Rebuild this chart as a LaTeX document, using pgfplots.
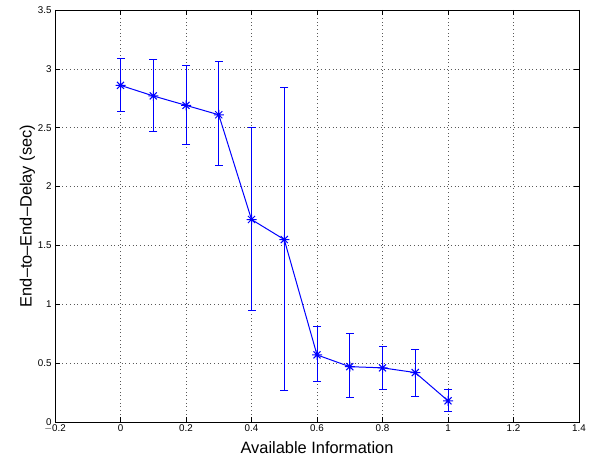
\documentclass[border=0pt]{standalone}
\usepackage{pgfplots}
\pgfplotsset{compat=1.18}
\usetikzlibrary{calc}
\usepackage{fontspec}
\setmainfont{Liberation Sans}
\pgfdeclareplotmark{mstar}{%
  \pgfpathmoveto{\pgfqpoint{-\pgfplotmarksize}{0pt}}%
  \pgfpathlineto{\pgfqpoint{\pgfplotmarksize}{0pt}}%
  \pgfpathmoveto{\pgfqpoint{0pt}{-\pgfplotmarksize}}%
  \pgfpathlineto{\pgfqpoint{0pt}{\pgfplotmarksize}}%
  \pgfpathmoveto{\pgfqpoint{-0.7071\pgfplotmarksize}{-0.7071\pgfplotmarksize}}%
  \pgfpathlineto{\pgfqpoint{0.7071\pgfplotmarksize}{0.7071\pgfplotmarksize}}%
  \pgfpathmoveto{\pgfqpoint{-0.7071\pgfplotmarksize}{0.7071\pgfplotmarksize}}%
  \pgfpathlineto{\pgfqpoint{0.7071\pgfplotmarksize}{-0.7071\pgfplotmarksize}}%
  \pgfusepathqstroke}
\pgfplotstableread{
x    y     lo    hi
0.0  2.86  2.64  3.09
0.1  2.77  2.47  3.08
0.2  2.69  2.36  3.03
0.3  2.61  2.18  3.06
0.4  1.72  0.95  2.50
0.5  1.55  0.27  2.84
0.6  0.57  0.34  0.81
0.7  0.47  0.21  0.75
0.8  0.46  0.28  0.64
0.9  0.42  0.22  0.62
1.0  0.18  0.09  0.28
}\delaydata
\begin{document}
\begin{tikzpicture}
\begin{axis}[
  scale only axis,
  width=524pt, height=412pt,
  xmin=-0.2, xmax=1.4, ymin=0, ymax=3.5,
  xtick={-0.2,0,0.2,0.4,0.6,0.8,1,1.2,1.4},
  ytick={0,0.5,1,1.5,2,2.5,3,3.5},
  xticklabels={$-$0.2,0,0.2,0.4,0.6,0.8,1,1.2,1.4},
  yticklabels={0,0.5,1,1.5,2,2.5,3,3.5},
  tick align=inside,
  major tick length=5pt,
  tick style={black, line width=0.5pt},
  axis line style={black, line width=0.9pt},
  grid=major,
  grid style={black!65, line width=0.6pt, dash pattern=on 0.7pt off 3pt},
  ticklabel style={font=\fontsize{9.8pt}{11pt}\selectfont},
  xticklabel style={yshift=1pt},
  label style={font=\fontsize{16.4pt}{18pt}\selectfont},
  xlabel={Available Information},
  ylabel={End--to--End--Delay (sec)},
  xlabel style={yshift=-3pt},
  ylabel style={yshift=-4pt},
  unbounded coords=jump,
]
% vertical error bars (lower to upper), separated by nan rows
\addplot[blue, line width=1pt, mark=none] table {
x y
0.0 2.64
0.0 3.09
nan nan
0.1 2.47
0.1 3.08
nan nan
0.2 2.36
0.2 3.03
nan nan
0.3 2.18
0.3 3.06
nan nan
0.4 0.95
0.4 2.50
nan nan
0.5 0.27
0.5 2.84
nan nan
0.6 0.34
0.6 0.81
nan nan
0.7 0.21
0.7 0.75
nan nan
0.8 0.28
0.8 0.64
nan nan
0.9 0.22
0.9 0.62
nan nan
1.0 0.09
1.0 0.28
};
% caps
\addplot[blue, only marks, mark=-, mark size=4pt, mark options={line width=1pt}] table[x=x, y=lo] {\delaydata};
\addplot[blue, only marks, mark=-, mark size=4pt, mark options={line width=1pt}] table[x=x, y=hi] {\delaydata};
% mean line with markers
\addplot[blue, line width=1pt, mark=mstar, mark size=5pt, mark options={line width=1pt}] table[x=x, y=y] {\delaydata};
\coordinate (A) at (rel axis cs:0,0);
\coordinate (B) at (rel axis cs:1,1);
\end{axis}
\pgfresetboundingbox
\path ($(A)+(-55pt,-37pt)$) rectangle ($(B)+(11pt,10pt)$);
\end{tikzpicture}
\end{document}
